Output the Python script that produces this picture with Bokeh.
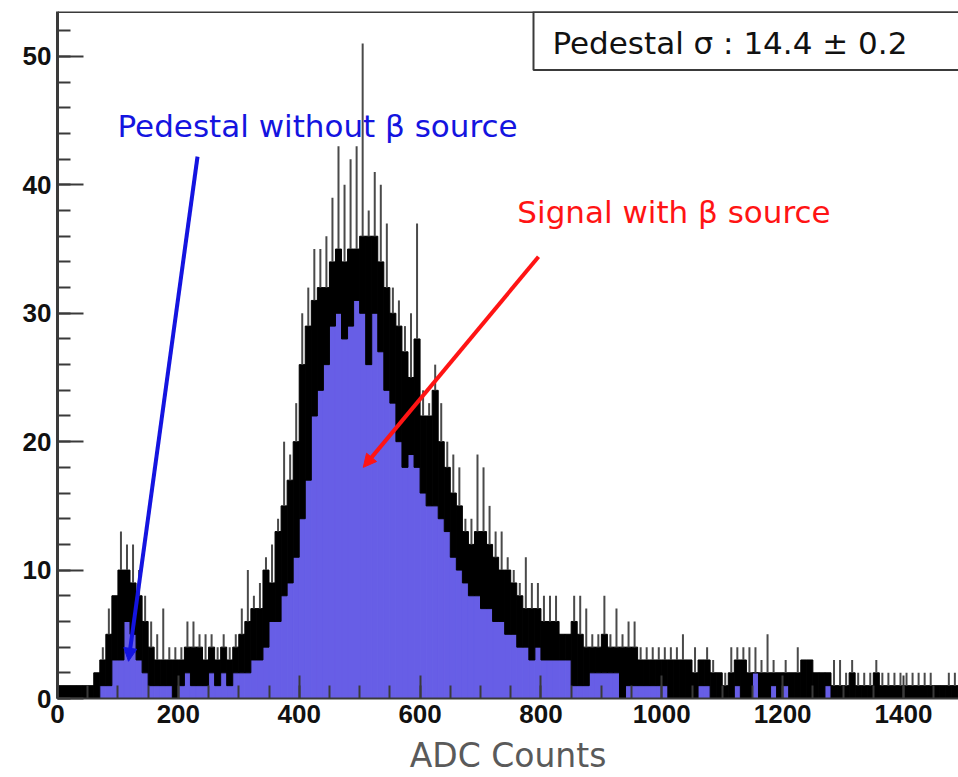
from bokeh.plotting import figure
from bokeh.models import (Range1d, SingleIntervalTicker, Label, Arrow, NormalHead,
                          Span, ColumnDataSource)
from bokeh.embed import file_html
from bokeh.resources import INLINE

# ---------------- data ----------------
bin_width = 10
bin_start = list(range(0, 1500, bin_width))          # ADC counts, bin lower edges

# lower envelope of the counts in each bin (blue filled part)
counts_low = [
    0, 0, 0, 0, 0, 0, 0, 1, 1, 3,
    3, 6, 5, 3, 2, 1, 1, 1, 1, 0,
    1, 2, 1, 1, 1, 2, 1, 2, 1, 2,
    2, 2, 3, 3, 4, 6, 6, 8, 9, 11,
    14, 17, 22, 24, 26, 29, 30, 28, 29, 31,
    30, 26, 30, 27, 24, 23, 20, 18, 19, 18,
    16, 15, 15, 14, 13, 11, 10, 9, 8, 8,
    7, 7, 6, 6, 5, 5, 4, 4, 3, 4,
    3, 3, 3, 3, 3, 1, 1, 1, 2, 2,
    2, 2, 2, 0, 1, 1, 1, 1, 1, 1,
    1, 0, 0, 0, 0, 0, 1, 1, 0, 0,
    0, 0, 1, 0, 0, 2, 0, 0, 1, 0,
    1, 0, 0, 0, 0, 0, 0, 1, 0, 0,
    0, 0, 0, 0, 0, 0, 0, 0, 0, 0,
    0, 0, 0, 0, 0, 0, 0, 0, 0, 0,
]
# upper envelope of the counts in each bin (solid black band)
counts_high = [
    1, 1, 1, 1, 1, 1, 2, 3, 5, 8,
    10, 10, 9, 8, 6, 4, 3, 3, 3, 3,
    3, 4, 4, 4, 3, 4, 3, 4, 3, 4,
    5, 6, 7, 7, 10, 9, 13, 15, 17, 20,
    26, 29, 31, 32, 32, 34, 35, 34, 35, 35,
    36, 36, 36, 34, 32, 30, 29, 27, 25, 28,
    22, 22, 24, 20, 18, 16, 15, 13, 12, 13,
    13, 12, 11, 10, 10, 9, 8, 7, 7, 7,
    6, 6, 6, 5, 5, 6, 5, 4, 4, 4,
    5, 4, 4, 4, 4, 4, 3, 3, 3, 3,
    3, 3, 3, 3, 3, 2, 3, 3, 2, 2,
    1, 2, 3, 3, 2, 2, 2, 2, 2, 2,
    2, 2, 2, 3, 3, 2, 2, 2, 1, 1,
    1, 2, 1, 1, 1, 2, 1, 1, 1, 1,
    1, 1, 1, 1, 1, 1, 1, 1, 1, 1,
]
# single-channel maxima (thin spikes)
counts_peak = [
    1, 1, 1, 1, 1, 1, 2, 4, 7, 8,
    13, 12, 12, 10, 8, 6, 5, 7, 4, 4,
    4, 6, 6, 5, 5, 5, 4, 5, 4, 5,
    7, 10, 8, 9, 11, 12, 14, 20, 19, 23,
    30, 32, 35, 35, 36, 39, 43, 40, 42, 43,
    51, 38, 41, 40, 37, 32, 31, 29, 30, 37,
    24, 23, 26, 23, 20, 19, 18, 14, 14, 19,
    18, 15, 13, 13, 11, 10, 9, 11, 9, 9,
    8, 8, 8, 5, 5, 8, 8, 7, 5, 5,
    8, 5, 7, 5, 6, 6, 4, 4, 4, 4,
    4, 4, 4, 5, 3, 4, 3, 4, 3, 2,
    2, 4, 4, 4, 4, 4, 3, 5, 3, 2,
    3, 2, 4, 3, 3, 2, 2, 2, 3, 3,
    2, 3, 2, 2, 2, 3, 2, 2, 2, 2,
    2, 2, 2, 2, 2, 1, 1, 2, 2, 2,
]

x_title = "ADC Counts"
box_text = "Pedestal \u03c3 : 14.4 \u00b1 0.2"
pedestal_text = "Pedestal without \u03b2 source"
signal_text = "Signal with \u03b2 source"

# ---------------- layout / style constants ----------------
X_END = 1491
Y_END = 53.5
BLUE_FILL = "#675ee6"
FRAME = "#3a3a3a"
ANNOT_BLUE = "#1414e0"
ANNOT_RED = "#ff1414"

src = ColumnDataSource(dict(
    left=bin_start,
    right=[b + bin_width for b in bin_start],
    center=[b + bin_width / 2 for b in bin_start],
    low=counts_low,
    high=counts_high,
    peak=counts_peak,
))

p = figure(width=958, height=777, output_backend="svg", toolbar_location=None,
           x_range=Range1d(0, X_END), y_range=Range1d(0, Y_END),
           min_border_left=57, min_border_right=0, min_border_top=11,
           min_border_bottom=78)
p.xgrid.visible = False
p.ygrid.visible = False
p.outline_line_color = None
p.background_fill_color = "white"
p.border_fill_color = "white"

# histogram: blue body, black band, thin spikes
p.quad(left="left", right="right", bottom=0, top="low", source=src,
       fill_color=BLUE_FILL, line_color=BLUE_FILL, line_width=1)
p.quad(left="left", right="right", bottom="low", top="high", source=src,
       fill_color="black", line_color="black", line_width=1)
p.segment(x0="center", y0="high", x1="center", y1="peak", source=src,
          line_color="#4a4a4a", line_width=2)

# stat box (top right, running off the frame)
p.quad(left=[787.7], right=[X_END + 200], bottom=[48.95], top=[Y_END],
       fill_color="white", line_color=FRAME, line_width=2)
p.add_layout(Label(x=819, y=51.05, text=box_text, text_font="DejaVu Sans",
                   text_font_size="31px", text_color="#111111",
                   text_baseline="alphabetic"))
p.add_layout(Span(location=Y_END, dimension="width", line_color=FRAME,
                  line_width=3))

# annotations
p.add_layout(Label(x=99.3, y=44.6, text=pedestal_text, text_font="DejaVu Sans",
                   text_font_size="31px", text_color=ANNOT_BLUE,
                   text_baseline="alphabetic"))
p.add_layout(Label(x=761, y=37.9, text=signal_text, text_font="DejaVu Sans",
                   text_font_size="31px", text_color=ANNOT_RED,
                   text_baseline="alphabetic"))
p.add_layout(Arrow(x_start=231.7, y_start=42.2, x_end=117.5, y_end=2.9,
                   line_color=ANNOT_BLUE, line_width=4,
                   end=NormalHead(size=13, fill_color=ANNOT_BLUE,
                                  line_color=ANNOT_BLUE)))
p.add_layout(Arrow(x_start=796, y_start=34.4, x_end=506, y_end=18.0,
                   line_color=ANNOT_RED, line_width=4,
                   end=NormalHead(size=13, fill_color=ANNOT_RED,
                                  line_color=ANNOT_RED)))

# axes
xa = p.xaxis[0]
xa.ticker = SingleIntervalTicker(interval=200, num_minor_ticks=4)
xa.axis_label = x_title
xa.axis_label_text_font = "DejaVu Sans"
xa.axis_label_text_font_style = "normal"
xa.axis_label_text_font_size = "33px"
xa.axis_label_text_color = "#5a5a5a"
xa.axis_label_standoff = 10
xa.major_label_text_font = "Liberation Sans"
xa.major_label_text_font_style = "bold"
xa.major_label_text_font_size = "26px"
xa.major_label_text_color = "#111111"
xa.major_label_standoff = 6
xa.major_tick_in = 23
xa.major_tick_out = 0
xa.minor_tick_in = 13
xa.minor_tick_out = 0
xa.axis_line_color = FRAME
xa.axis_line_width = 2
xa.major_tick_line_color = FRAME
xa.major_tick_line_width = 2
xa.minor_tick_line_color = FRAME
xa.minor_tick_line_width = 2

ya = p.yaxis[0]
ya.ticker = SingleIntervalTicker(interval=10, num_minor_ticks=5)
ya.major_label_text_font = "Liberation Sans"
ya.major_label_text_font_style = "bold"
ya.major_label_text_font_size = "26px"
ya.major_label_text_color = "#111111"
ya.major_label_standoff = 6
ya.major_tick_in = 26
ya.major_tick_out = 0
ya.minor_tick_in = 13
ya.minor_tick_out = 0
ya.axis_line_color = FRAME
ya.axis_line_width = 3
ya.major_tick_line_color = FRAME
ya.major_tick_line_width = 2
ya.minor_tick_line_color = FRAME
ya.minor_tick_line_width = 2

open("out.html", "w").write(file_html(p, INLINE))
